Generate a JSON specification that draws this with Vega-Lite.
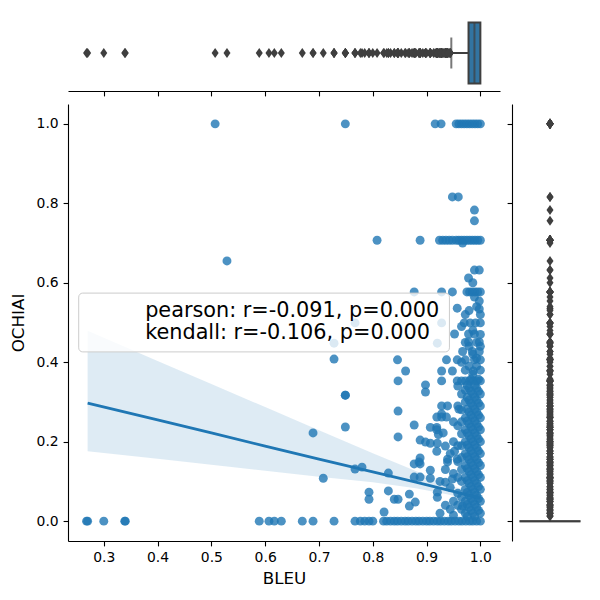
{
  "$schema": "https://vega.github.io/schema/vega-lite/v6.json",
  "padding": {"left": 10, "top": 15, "right": 5, "bottom": 5},
  "columns": 2,
  "align": "each",
  "bounds": "flush",
  "spacing": {"row": 13, "column": 12},
  "resolve": {"scale": {"x": "independent", "y": "independent"}},
  "config": {
    "font": "DejaVu Sans",
    "view": {"stroke": null},
    "axis": {
      "grid": false,
      "domainColor": "black",
      "domainWidth": 1.1,
      "tickColor": "black",
      "tickWidth": 1.1,
      "tickSize": 4.9,
      "labelPadding": 4.9,
      "labelFont": "DejaVu Sans",
      "labelFontSize": 13.9,
      "labelColor": "black",
      "labelFlush": false,
      "labelOverlap": false,
      "titleFont": "DejaVu Sans",
      "titleFontSize": 16.7,
      "titleFontWeight": "normal",
      "titleColor": "black"
    }
  },
  "datasets": {
    "pts": [
      {"b":0.507,"o":1.0},{"b":0.749,"o":1.0},{"b":0.916,"o":1.0},{"b":0.927,"o":1.0},{"b":0.955,"o":1.0},{"b":0.96,"o":1.0},{"b":0.965,"o":1.0},{"b":0.97,"o":1.0},{"b":0.975,"o":1.0},{"b":0.98,"o":1.0},{"b":0.985,"o":1.0},{"b":0.99,"o":1.0},{"b":0.995,"o":1.0},{"b":1.0,"o":1.0},
      {"b":0.948,"o":0.816},{"b":0.959,"o":0.816},{"b":0.989,"o":0.783},{"b":0.989,"o":0.756},
      {"b":0.808,"o":0.707},{"b":0.888,"o":0.707},{"b":0.924,"o":0.707},{"b":0.93,"o":0.707},{"b":0.936,"o":0.707},{"b":0.942,"o":0.707},{"b":0.948,"o":0.707},{"b":0.955,"o":0.707},{"b":0.96,"o":0.707},{"b":0.965,"o":0.707},{"b":0.97,"o":0.707},{"b":0.975,"o":0.707},{"b":0.98,"o":0.707},{"b":0.985,"o":0.707},{"b":0.99,"o":0.707},{"b":0.995,"o":0.707},{"b":1.0,"o":0.707},
      {"b":0.967,"o":0.7},{"b":0.529,"o":0.655},{"b":0.989,"o":0.632},{"b":0.998,"o":0.632},{"b":0.978,"o":0.612},
      {"b":0.877,"o":0.577},{"b":0.928,"o":0.577},{"b":0.948,"o":0.577},{"b":0.975,"o":0.577},{"b":0.98,"o":0.577},{"b":0.985,"o":0.577},{"b":0.99,"o":0.577},{"b":0.995,"o":0.577},{"b":1.0,"o":0.577},
      {"b":0.989,"o":0.564},{"b":0.998,"o":0.554},{"b":0.957,"o":0.536},{"b":0.998,"o":0.534},
      {"b":0.767,"o":0.499},{"b":0.928,"o":0.499},{"b":0.97,"o":0.499},{"b":0.981,"o":0.499},{"b":0.991,"o":0.499},{"b":1.0,"o":0.499},
      {"b":0.952,"o":0.471},{"b":0.978,"o":0.471},{"b":0.989,"o":0.471},{"b":0.978,"o":0.451},{"b":0.998,"o":0.451},
      {"b":0.728,"o":0.448},{"b":0.92,"o":0.448},{"b":0.967,"o":0.427},{"b":0.985,"o":0.427},{"b":0.998,"o":0.427},{"b":0.728,"o":0.408},
      {"b":0.846,"o":0.406},{"b":0.937,"o":0.406},{"b":0.957,"o":0.406},{"b":0.972,"o":0.406},{"b":0.989,"o":0.406},{"b":1.0,"o":0.406},
      {"b":0.861,"o":0.378},{"b":0.928,"o":0.378},{"b":0.948,"o":0.378},{"b":0.987,"o":0.378},
      {"b":0.847,"o":0.353},{"b":0.928,"o":0.353},{"b":0.957,"o":0.353},{"b":0.965,"o":0.353},{"b":0.972,"o":0.353},{"b":0.98,"o":0.353},{"b":0.987,"o":0.353},{"b":0.993,"o":0.353},{"b":1.0,"o":0.353},
      {"b":0.898,"o":0.343},{"b":0.898,"o":0.325},{"b":0.749,"o":0.317},{"b":0.749,"o":0.317},
      {"b":0.928,"o":0.29},{"b":0.939,"o":0.29},{"b":0.928,"o":0.27},{"b":0.96,"o":0.282},{"b":0.847,"o":0.277},
      {"b":0.919,"o":0.262},{"b":0.928,"o":0.262},{"b":0.937,"o":0.262},
      {"b":0.877,"o":0.242},{"b":0.749,"o":0.237},{"b":0.907,"o":0.236},{"b":0.919,"o":0.236},{"b":0.689,"o":0.222},
      {"b":0.919,"o":0.23},{"b":0.931,"o":0.222},{"b":0.922,"o":0.218},{"b":0.847,"o":0.212},
      {"b":0.888,"o":0.204},{"b":0.898,"o":0.199},{"b":0.907,"o":0.196},{"b":0.92,"o":0.196},{"b":0.935,"o":0.189},
      {"b":0.919,"o":0.176},{"b":0.952,"o":0.176},{"b":0.957,"o":0.156},{"b":0.888,"o":0.159},{"b":0.886,"o":0.149},
      {"b":0.877,"o":0.144},{"b":0.888,"o":0.144},{"b":0.939,"o":0.156},{"b":0.939,"o":0.149},
      {"b":0.78,"o":0.136},{"b":0.767,"o":0.131},{"b":0.907,"o":0.128},{"b":0.907,"o":0.108},{"b":0.829,"o":0.121},
      {"b":0.877,"o":0.111},{"b":0.888,"o":0.111},{"b":0.708,"o":0.108},{"b":0.935,"o":0.098},{"b":0.948,"o":0.106},
      {"b":0.829,"o":0.076},{"b":0.793,"o":0.073},{"b":0.793,"o":0.055},{"b":0.84,"o":0.055},{"b":0.847,"o":0.055},
      {"b":0.868,"o":0.068},{"b":0.879,"o":0.048},{"b":0.868,"o":0.038},{"b":0.92,"o":0.073},{"b":0.92,"o":0.06},{"b":0.967,"o":0.038},{"b":0.821,"o":0.023},
      {"b":1.0,"o":0.02},{"b":1.0,"o":0.05},{"b":1.0,"o":0.08},{"b":1.0,"o":0.11},{"b":1.0,"o":0.14},{"b":1.0,"o":0.17},{"b":1.0,"o":0.2},{"b":1.0,"o":0.23},{"b":1.0,"o":0.26},{"b":1.0,"o":0.29},{"b":1.0,"o":0.32},{"b":1.0,"o":0.38},{"b":1.0,"o":0.44},{"b":1.0,"o":0.47},{"b":1.0,"o":0.52},
      {"b":0.993,"o":0.035},{"b":0.993,"o":0.065},{"b":0.993,"o":0.095},{"b":0.993,"o":0.125},{"b":0.993,"o":0.155},{"b":0.993,"o":0.185},{"b":0.993,"o":0.215},{"b":0.993,"o":0.245},{"b":0.993,"o":0.275},{"b":0.993,"o":0.305},{"b":0.993,"o":0.335},{"b":0.993,"o":0.39},{"b":0.993,"o":0.41},{"b":0.993,"o":0.45},{"b":0.993,"o":0.54},
      {"b":0.986,"o":0.02},{"b":0.986,"o":0.05},{"b":0.986,"o":0.08},{"b":0.986,"o":0.11},{"b":0.986,"o":0.14},{"b":0.986,"o":0.17},{"b":0.986,"o":0.2},{"b":0.986,"o":0.23},{"b":0.986,"o":0.26},{"b":0.986,"o":0.29},{"b":0.986,"o":0.32},{"b":0.986,"o":0.37},{"b":0.986,"o":0.42},{"b":0.986,"o":0.48},{"b":0.986,"o":0.6},
      {"b":0.979,"o":0.035},{"b":0.979,"o":0.065},{"b":0.979,"o":0.095},{"b":0.979,"o":0.125},{"b":0.979,"o":0.155},{"b":0.979,"o":0.185},{"b":0.979,"o":0.215},{"b":0.979,"o":0.245},{"b":0.979,"o":0.275},{"b":0.979,"o":0.305},{"b":0.979,"o":0.335},{"b":0.979,"o":0.39},{"b":0.979,"o":0.44},{"b":0.979,"o":0.53},
      {"b":0.972,"o":0.02},{"b":0.972,"o":0.05},{"b":0.972,"o":0.08},{"b":0.972,"o":0.11},{"b":0.972,"o":0.14},{"b":0.972,"o":0.17},{"b":0.972,"o":0.2},{"b":0.972,"o":0.23},{"b":0.972,"o":0.26},{"b":0.972,"o":0.3},{"b":0.972,"o":0.33},{"b":0.972,"o":0.38},{"b":0.972,"o":0.45},{"b":0.972,"o":0.52},
      {"b":0.9965,"o":0.027},{"b":0.9965,"o":0.057},{"b":0.9965,"o":0.087},{"b":0.9965,"o":0.117},{"b":0.9965,"o":0.147},{"b":0.9965,"o":0.177},{"b":0.9965,"o":0.207},{"b":0.9965,"o":0.237},{"b":0.9965,"o":0.267},{"b":0.9965,"o":0.297},{"b":0.9965,"o":0.327},{"b":0.9965,"o":0.357},
      {"b":0.9825,"o":0.027},{"b":0.9825,"o":0.057},{"b":0.9825,"o":0.087},{"b":0.9825,"o":0.117},{"b":0.9825,"o":0.147},{"b":0.9825,"o":0.177},{"b":0.9825,"o":0.207},{"b":0.9825,"o":0.237},{"b":0.9825,"o":0.267},{"b":0.9825,"o":0.297},{"b":0.9825,"o":0.327},{"b":0.9825,"o":0.357},
      {"b":0.9895,"o":0.012},{"b":0.9895,"o":0.042},{"b":0.9895,"o":0.072},{"b":0.9895,"o":0.102},{"b":0.9895,"o":0.132},{"b":0.9895,"o":0.162},{"b":0.9895,"o":0.192},{"b":0.9895,"o":0.222},{"b":0.9895,"o":0.252},{"b":0.9895,"o":0.282},{"b":0.9895,"o":0.312},{"b":0.9895,"o":0.342},
      {"b":0.9755,"o":0.012},{"b":0.9755,"o":0.042},{"b":0.9755,"o":0.072},{"b":0.9755,"o":0.102},{"b":0.9755,"o":0.132},{"b":0.9755,"o":0.162},{"b":0.9755,"o":0.192},{"b":0.9755,"o":0.222},{"b":0.9755,"o":0.252},{"b":0.9755,"o":0.282},{"b":0.9755,"o":0.312},{"b":0.9755,"o":0.342},
      {"b":0.965,"o":0.03},{"b":0.965,"o":0.06},{"b":0.965,"o":0.1},{"b":0.965,"o":0.13},{"b":0.965,"o":0.16},{"b":0.965,"o":0.19},{"b":0.965,"o":0.22},{"b":0.965,"o":0.25},{"b":0.965,"o":0.28},{"b":0.965,"o":0.32},{"b":0.965,"o":0.4},{"b":0.965,"o":0.49},
      {"b":0.958,"o":0.04},{"b":0.958,"o":0.07},{"b":0.958,"o":0.11},{"b":0.958,"o":0.15},{"b":0.958,"o":0.19},{"b":0.958,"o":0.24},{"b":0.958,"o":0.29},{"b":0.958,"o":0.34},
      {"b":0.95,"o":0.015},{"b":0.95,"o":0.05},{"b":0.95,"o":0.12},{"b":0.95,"o":0.2},{"b":0.95,"o":0.25},
      {"b":0.944,"o":0.03},{"b":0.944,"o":0.085},{"b":0.944,"o":0.17},{"b":0.935,"o":0.04},{"b":0.935,"o":0.13},{"b":0.925,"o":0.02},{"b":0.925,"o":0.1},
      {"b":0.268,"o":0},{"b":0.27,"o":0},{"b":0.3,"o":0},{"b":0.339,"o":0},{"b":0.34,"o":0},{"b":0.589,"o":0},{"b":0.607,"o":0},{"b":0.617,"o":0},{"b":0.63,"o":0},{"b":0.669,"o":0},{"b":0.689,"o":0},{"b":0.728,"o":0},
      {"b":0.767,"o":0},{"b":0.777,"o":0},{"b":0.785,"o":0},{"b":0.793,"o":0},{"b":0.8,"o":0},{"b":0.82,"o":0},{"b":0.826,"o":0},{"b":0.833,"o":0},{"b":0.84,"o":0},{"b":0.846,"o":0},{"b":0.853,"o":0},{"b":0.86,"o":0},{"b":0.866,"o":0},{"b":0.873,"o":0},{"b":0.88,"o":0},{"b":0.886,"o":0},{"b":0.893,"o":0},{"b":0.9,"o":0},{"b":0.906,"o":0},{"b":0.913,"o":0},{"b":0.92,"o":0},{"b":0.926,"o":0},{"b":0.933,"o":0},{"b":0.94,"o":0},{"b":0.946,"o":0},{"b":0.953,"o":0},{"b":0.96,"o":0},{"b":0.966,"o":0},{"b":0.973,"o":0},{"b":0.98,"o":0},{"b":0.986,"o":0},{"b":0.993,"o":0},{"b":1.0,"o":0}
    ],
    "band": [
      {"b":0.27,"lo":0.176,"hi":0.479,"fit":0.297},
      {"b":0.4,"lo":0.157,"hi":0.403,"fit":0.255},
      {"b":0.5,"lo":0.142,"hi":0.345,"fit":0.222},
      {"b":0.6,"lo":0.127,"hi":0.287,"fit":0.189},
      {"b":0.7,"lo":0.112,"hi":0.229,"fit":0.156},
      {"b":0.8,"lo":0.098,"hi":0.171,"fit":0.124},
      {"b":0.88,"lo":0.083,"hi":0.126,"fit":0.098},
      {"b":0.94,"lo":0.067,"hi":0.09,"fit":0.078},
      {"b":1.0,"lo":0.046,"hi":0.07,"fit":0.058}
    ],
    "box": [
      {"g":"BLEU","lower":0.946,"q1":0.978,"med":0.989,"q3":1.0},
      {"g":"OCHIAI","lower":0,"q1":0,"med":0,"q3":0}
    ]
  },
  "concat": [
    {
      "width": 432,
      "height": 76,
      "layer": [
        {
          "data": {"name": "box"},
          "transform": [{"filter": "datum.g === 'BLEU'"}],
          "layer": [
            {
              "mark": {"type": "rule", "color": "#3f3f3f", "strokeWidth": 2},
              "encoding": {
                "x": {"field": "lower", "type": "quantitative", "scale": {"domain": [0.2335, 1.0365], "nice": false, "zero": false}, "axis": {"values": [0.3,0.4,0.5,0.6,0.7,0.8,0.9,1.0], "labels": false, "title": null}},
                "x2": {"field": "q1"},
                "y": {"field": "g", "type": "nominal", "scale": {"domain": ["BLEU"], "paddingInner": 0.2, "paddingOuter": 0.1}, "axis": null}
              }
            },
            {
              "mark": {"type": "tick", "color": "#3f3f3f", "thickness": 2, "size": 31},
              "encoding": {
                "x": {"field": "lower", "type": "quantitative"},
                "y": {"field": "g", "type": "nominal"}
              }
            },
            {
              "mark": {"type": "bar", "fill": "#3274a1", "stroke": "#3f3f3f", "strokeWidth": 2},
              "encoding": {
                "x": {"field": "q1", "type": "quantitative"},
                "x2": {"field": "q3"},
                "y": {"field": "g", "type": "nominal"}
              }
            },
            {
              "mark": {"type": "tick", "color": "#3f3f3f", "thickness": 2, "size": 61},
              "encoding": {
                "x": {"field": "med", "type": "quantitative"},
                "y": {"field": "g", "type": "nominal"}
              }
            }
          ]
        },
        {
          "data": {"name": "pts"},
          "transform": [{"filter": "datum.b < 0.946"}],
          "mark": {"type": "point", "shape": "M0,-1L0.7,0L0,1L-0.7,0Z", "filled": true, "color": "#3f3f3f", "opacity": 1, "size": 100},
          "encoding": {
            "x": {"field": "b", "type": "quantitative"}
          }
        }
      ]
    },
    {
      "width": 76,
      "height": 76,
      "data": {"values": []},
      "mark": "point"
    },
    {
      "width": 432,
      "height": 437,
      "layer": [
        {
          "data": {"name": "pts"},
          "mark": {"type": "circle", "color": "#1f77b4", "opacity": 0.8, "size": 80},
          "encoding": {
            "x": {"field": "b", "type": "quantitative", "scale": {"domain": [0.2335, 1.0365], "nice": false, "zero": false}, "axis": {"values": [0.3,0.4,0.5,0.6,0.7,0.8,0.9,1.0], "format": ".1f", "title": "BLEU", "titlePadding": 5.5}},
            "y": {"field": "o", "type": "quantitative", "scale": {"domain": [-0.05, 1.05], "nice": false, "zero": false}, "axis": {"values": [0,0.2,0.4,0.6,0.8,1.0], "format": ".1f", "title": "OCHIAI", "titlePadding": 8.5}}
          }
        },
        {
          "data": {"name": "band"},
          "mark": {"type": "area", "color": "#1f77b4", "opacity": 0.15},
          "encoding": {
            "x": {"field": "b", "type": "quantitative"},
            "y": {"field": "lo", "type": "quantitative"},
            "y2": {"field": "hi"}
          }
        },
        {
          "data": {"name": "band"},
          "mark": {"type": "line", "color": "#1f77b4", "strokeWidth": 2.8},
          "encoding": {
            "x": {"field": "b", "type": "quantitative"},
            "y": {"field": "fit", "type": "quantitative"}
          }
        },
        {
          "data": {"values": [{"legend": "stats"}]},
          "mark": {"type": "rect", "fill": "white", "fillOpacity": 0.8, "stroke": "#cccccc", "strokeWidth": 1, "cornerRadius": 4},
          "encoding": {
            "x": {"datum": 0.2534, "type": "quantitative"},
            "x2": {"datum": 0.9425},
            "y": {"datum": 0.426, "type": "quantitative"},
            "y2": {"datum": 0.574}
          }
        },
        {
          "data": {"values": [{"label": "pearson: r=-0.091, p=0.000"}]},
          "mark": {"type": "text", "align": "left", "baseline": "alphabetic", "fontSize": 20.8, "font": "DejaVu Sans", "color": "black"},
          "encoding": {
            "x": {"datum": 0.3769, "type": "quantitative"},
            "y": {"datum": 0.5131, "type": "quantitative"},
            "text": {"field": "label"}
          }
        },
        {
          "data": {"values": [{"label": "kendall: r=-0.106, p=0.000"}]},
          "mark": {"type": "text", "align": "left", "baseline": "alphabetic", "fontSize": 20.8, "font": "DejaVu Sans", "color": "black"},
          "encoding": {
            "x": {"datum": 0.3769, "type": "quantitative"},
            "y": {"datum": 0.4584, "type": "quantitative"},
            "text": {"field": "label"}
          }
        }
      ]
    },
    {
      "width": 76,
      "height": 437,
      "layer": [
        {
          "data": {"name": "box"},
          "transform": [{"filter": "datum.g === 'OCHIAI'"}],
          "layer": [
            {
              "mark": {"type": "rule", "color": "#3f3f3f", "strokeWidth": 2},
              "encoding": {
                "y": {"field": "lower", "type": "quantitative", "scale": {"domain": [-0.05, 1.05], "nice": false, "zero": false}, "axis": {"values": [0,0.2,0.4,0.6,0.8,1.0], "labels": false, "title": null}},
                "y2": {"field": "q1"},
                "x": {"field": "g", "type": "nominal", "scale": {"domain": ["OCHIAI"], "paddingInner": 0.2, "paddingOuter": 0.1}, "axis": null}
              }
            },
            {
              "mark": {"type": "bar", "fill": "#3274a1", "stroke": "#3f3f3f", "strokeWidth": 2},
              "encoding": {
                "y": {"field": "q1", "type": "quantitative"},
                "y2": {"field": "q3"},
                "x": {"field": "g", "type": "nominal"}
              }
            },
            {
              "mark": {"type": "tick", "color": "#3f3f3f", "thickness": 2, "size": 61},
              "encoding": {
                "y": {"field": "med", "type": "quantitative"},
                "x": {"field": "g", "type": "nominal"}
              }
            }
          ]
        },
        {
          "data": {"name": "pts"},
          "transform": [{"filter": "datum.o > 0"}],
          "mark": {"type": "point", "shape": "M0,-1L0.7,0L0,1L-0.7,0Z", "filled": true, "color": "#3f3f3f", "opacity": 1, "size": 100},
          "encoding": {
            "y": {"field": "o", "type": "quantitative"}
          }
        }
      ]
    }
  ]
}
